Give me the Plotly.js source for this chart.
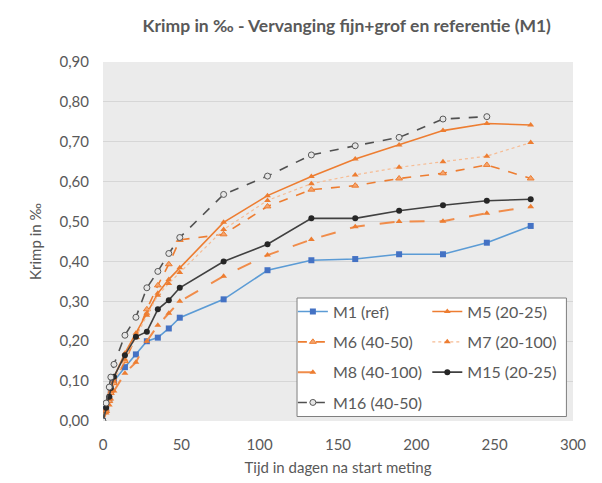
<!DOCTYPE html>
<html>
<head>
<meta charset="utf-8">
<script src="https://cdn.plot.ly/plotly-3.0.1.min.js"></script>
<style>html,body{margin:0;padding:0;background:#fff;}#chart{width:602px;height:483px;}</style>
</head>
<body>
<div id="chart"></div>
<script>
const days = [0, 2, 4, 5, 7, 14, 21, 28, 35, 42, 49, 77, 105, 133, 161, 189, 217, 245, 273];

const M1  = [0, 0.030, 0.055, 0.075, 0.100, 0.135, 0.167, 0.200, 0.209, 0.232, 0.259, 0.305, 0.378, 0.403, 0.406, 0.418, 0.418, 0.447, 0.489];
const M5  = [0, 0.030, 0.060, 0.080, 0.110, 0.170, 0.220, 0.270, 0.320, 0.355, 0.384, 0.498, 0.565, 0.613, 0.657, 0.692, 0.728, 0.746, 0.742];
const M6  = [0, 0.025, 0.050, 0.070, 0.095, 0.150, 0.210, 0.280, 0.340, 0.393, 0.454, 0.468, 0.538, 0.580, 0.590, 0.608, 0.621, 0.642, 0.608];
const M7  = [0, 0.030, 0.055, 0.075, 0.100, 0.155, 0.210, 0.265, 0.315, 0.345, 0.372, 0.480, 0.553, 0.595, 0.617, 0.636, 0.650, 0.664, 0.698];
const M8  = [0, 0.020, 0.040, 0.055, 0.075, 0.120, 0.147, 0.200, 0.240, 0.270, 0.300, 0.363, 0.416, 0.455, 0.487, 0.500, 0.501, 0.521, 0.537];
const M15 = [0, 0.033, 0.061, 0.083, 0.111, 0.165, 0.211, 0.224, 0.280, 0.303, 0.334, 0.400, 0.443, 0.508, 0.508, 0.527, 0.541, 0.552, 0.556];
const M16 = [0, 0.045, 0.085, 0.110, 0.142, 0.215, 0.260, 0.334, 0.375, 0.420, 0.460, 0.568, 0.614, 0.667, 0.690, 0.711, 0.757, 0.763, null];

const xTicks = [0, 50, 100, 150, 200, 250, 300];
const yTicks = [0, 0.1, 0.2, 0.3, 0.4, 0.5, 0.6, 0.7, 0.8, 0.9];

const FONT = 'Lato, "Open Sans", sans-serif';
const GREY = '#595959';

function tr(name, y, legend, line, marker) {
  return {
    type: 'scatter', mode: 'lines+markers', name: name, x: days, y: y,
    legend: legend, legendgroup: name, connectgaps: false,
    line: line, marker: marker
  };
}

const traces = [
  tr('M1 (ref)', M1, 'legend', {color: '#5b9bd5', width: 1.6}, {symbol: 'square', size: 6, color: '#4472c4'}),
  tr('M5 (20-25)', M5, 'legend2', {color: '#ed7d31', width: 1.6}, {symbol: 'triangle-up', size: 6, color: '#ed7d31'}),
  tr('M6 (40-50)', M6, 'legend', {color: '#ed7d31', width: 1.6, dash: 'dash'}, {symbol: 'triangle-up', size: 6, color: '#f4a46e', line: {color: '#ed7d31', width: 1}}),
  tr('M7 (20-100)', M7, 'legend2', {color: '#f6bc94', width: 1.2, dash: 'dot'}, {symbol: 'triangle-up', size: 6, color: '#ed7d31'}),
  tr('M8 (40-100)', M8, 'legend', {color: '#f08c4a', width: 2, dash: 'longdash'}, {symbol: 'triangle-up', size: 6, color: '#ed7d31'}),
  tr('M15 (20-25)', M15, 'legend2', {color: '#404040', width: 1.6}, {symbol: 'circle', size: 6, color: '#262626'}),
  tr('M16 (40-50)', M16, 'legend', {color: '#505050', width: 1.6, dash: 'dash'}, {symbol: 'circle', size: 6, color: '#e6e6e6', line: {color: '#595959', width: 1}})
];

const legendCommon = {
  xanchor: 'left', yanchor: 'top', bgcolor: 'rgba(0,0,0,0)', borderwidth: 0,
  font: {family: FONT, size: 16, color: GREY}, itemwidth: 30, tracegroupgap: 6.5,
  traceorder: 'grouped', orientation: 'v'
};

const layout = {
  width: 602, height: 483,
  margin: {l: 103, r: 29, t: 62, b: 62},
  paper_bgcolor: '#ffffff',
  plot_bgcolor: '#ebebeb',
  font: {family: FONT, color: GREY},
  separators: ', ',
  title: {
    text: '<b>Krimp in ‰ - Vervanging fijn+grof en referentie (M1)</b>',
    font: {family: FONT, size: 17.5, color: GREY},
    xref: 'container', x: 0.576, xanchor: 'center',
    yref: 'container', y: 0.947, yanchor: 'middle'
  },
  xaxis: {
    range: [0, 300], tickvals: xTicks, ticktext: xTicks.map(String),
    showgrid: false, zeroline: false, showline: false, ticks: '',
    ticklabelstandoff: 13,
    tickfont: {family: FONT, size: 15, color: GREY},
    title: {text: 'Tijd in dagen na start meting', font: {family: FONT, size: 15, color: GREY}, standoff: 10}
  },
  yaxis: {
    range: [0, 0.9], tickvals: yTicks, tickformat: '.2f',
    showgrid: true, gridcolor: '#d6d6d6', gridwidth: 1, zeroline: false, showline: false, ticks: '',
    ticklabelstandoff: 13,
    tickfont: {family: FONT, size: 15, color: GREY},
    title: {text: 'Krimp in ‰', font: {family: FONT, size: 15, color: GREY}, standoff: 14}
  },
  legend: Object.assign({x: 0.404, y: 0.352}, legendCommon),
  legend2: Object.assign({x: 0.690, y: 0.352}, legendCommon),
  shapes: [{
    type: 'rect', xref: 'paper', yref: 'paper', layer: 'above',
    x0: 0.4128, x1: 0.986, y0: 0.0125, y1: 0.3426,
    fillcolor: '#ffffff', line: {color: '#7f7f7f', width: 1}
  }],
  showlegend: true
};

Plotly.newPlot('chart', traces, layout, {displayModeBar: false, staticPlot: true});
</script>
</body>
</html>
